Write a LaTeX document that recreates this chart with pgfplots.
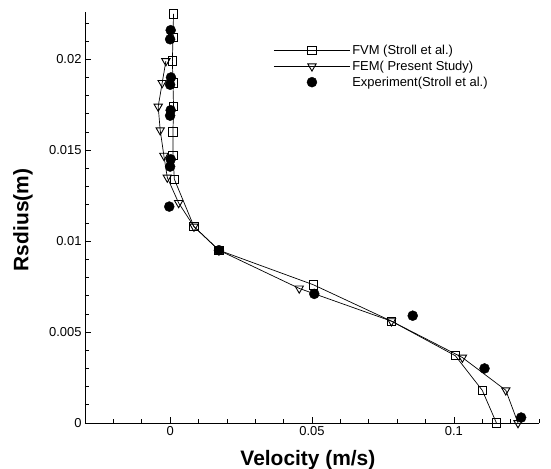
\documentclass[border=0pt]{standalone}
\usepackage{pgfplots}
\pgfplotsset{compat=1.18}
\usepackage{fontspec}
\setmainfont{Liberation Sans}
\begin{document}
\begin{tikzpicture}
\begin{axis}[
  scale only axis,
  width=454bp, height=411bp,
  xmin=-0.03, xmax=0.13,
  ymin=0, ymax=0.0226,
  axis lines=left,
  axis line style={-, line width=0.8pt},
  clip=false,
  tick align=inside,
  major tick length=6bp,
  minor tick length=4bp,
  every tick/.style={black, line width=0.7pt},
  xtick={0,0.05,0.1},
  xticklabels={0,0.05,0.1},
  minor xtick={-0.03,-0.02,-0.01,0.01,0.02,0.03,0.04,0.06,0.07,0.08,0.09,0.11,0.12,0.13},
  ytick={0,0.005,0.01,0.015,0.02},
  yticklabels={0,0.005,0.01,0.015,0.02},
  minor ytick={0.001,0.002,0.003,0.004,0.006,0.007,0.008,0.009,0.011,0.012,0.013,0.014,0.016,0.017,0.018,0.019,0.021,0.022},
  scaled ticks=false,
  /pgf/number format/assume math mode=true,
  tick label style={font=\fontsize{13}{15}\selectfont},
  xlabel={\textbf{Velocity (m/s)}},
  ylabel={\textbf{Rsdius(m)}},
  label style={font=\fontsize{21}{24}\selectfont},
  xlabel style={at={(rel axis cs:0.491,0)}, anchor=center, yshift=-37bp},
  ylabel style={at={(rel axis cs:0,0.494)}, anchor=center, yshift=62bp},
  legend style={draw=none, fill=none, at={(0.415,0.925)}, anchor=north west,
    font=\fontsize{13}{15}\selectfont, row sep=1bp, inner sep=0pt,
    legend cell align=left},
  legend image code/.code={\draw[mark repeat=2,mark phase=2,#1] plot coordinates {(0bp,0bp) (38bp,0bp) (76bp,0bp)};},
]
\addplot[black, line width=0.7pt, mark=square, mark size=4.2bp, mark options={fill=white, solid, line width=0.9pt}]
coordinates {
(0.0012,0.0225) (0.0010,0.0212) (0.0008,0.0199) (0.0010,0.0187) (0.0012,0.0174)
(0.0010,0.0160) (0.0010,0.0147) (0.0015,0.0134) (0.0084,0.0108) (0.0172,0.0095)
(0.0505,0.0076) (0.0780,0.0056) (0.1005,0.0037) (0.1100,0.0018) (0.1150,0.0000)
};
\addlegendentry{FVM (Stroll et al.)}
\addplot[black, line width=0.7pt, mark=triangle, mark size=4.8bp, mark options={fill=white, solid, rotate=180, line width=0.9pt}]
coordinates {
(-0.0015,0.0199) (-0.0028,0.0187) (-0.0042,0.0174) (-0.0035,0.0161) (-0.0022,0.0147)
(-0.0010,0.0135) (0.0030,0.0121) (0.0084,0.0108) (0.0172,0.0095) (0.0455,0.0074)
(0.0780,0.0056) (0.1030,0.0036) (0.1183,0.0018) (0.1226,0.0000)
};
\addlegendentry{FEM( Present Study)}
\addplot[black, only marks, mark=*, mark size=5bp]
coordinates {
(0.0002,0.0216) (0.0000,0.0211) (0.0003,0.0190) (0.0000,0.0186) (0.0002,0.0172)
(0.0000,0.0169) (0.0002,0.0145) (0.0000,0.0141) (-0.0003,0.0119) (0.0172,0.0095)
(0.0508,0.0071) (0.0855,0.0059) (0.1108,0.0030) (0.1237,0.0003)
};
\addlegendentry{Experiment(Stroll et al.)}
\end{axis}
\pgfresetboundingbox
\path ([shift={(-85bp,-46bp)}]current axis.south west) rectangle ([shift={(12bp,12bp)}]current axis.north east);
\end{tikzpicture}
\end{document}
